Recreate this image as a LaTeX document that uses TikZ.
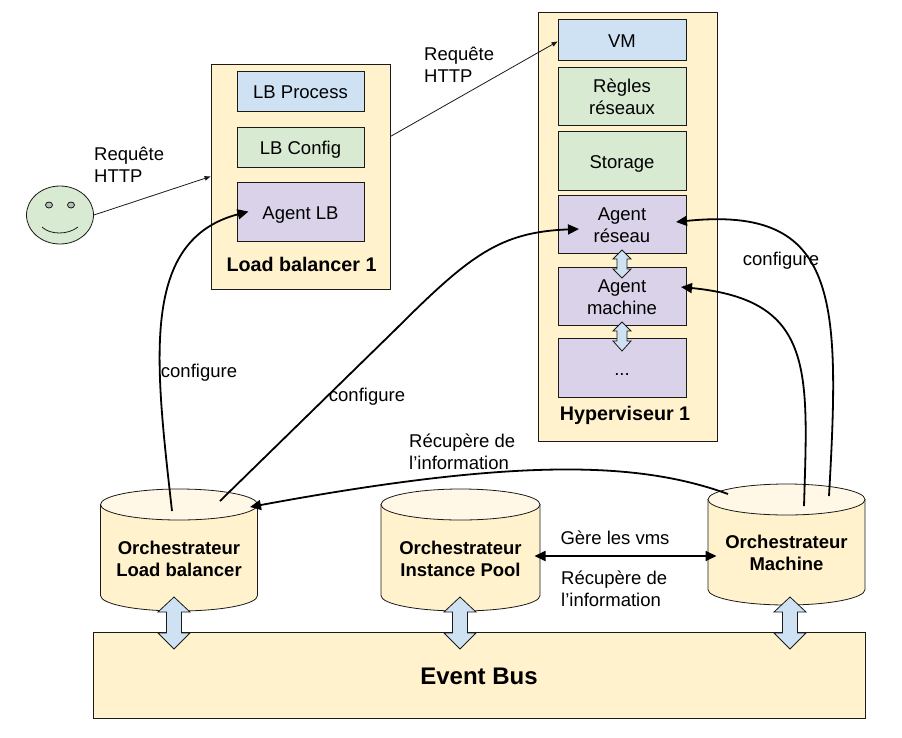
\documentclass[tikz,border=0pt]{standalone}
\usepackage{fontspec}
\setmainfont{Liberation Sans}
\usetikzlibrary{arrows.meta,calc,shapes.geometric}
\definecolor{cyellow}{HTML}{FFF2CC}
\definecolor{ctop}{HTML}{FFF8E6}
\definecolor{cgreen}{HTML}{D9EAD3}
\definecolor{cblue}{HTML}{CFE2F3}
\definecolor{cpurple}{HTML}{D9D2E9}
\definecolor{cline}{HTML}{1A1A1A}
\newcommand{\bxnode}[7][]{%
  \pgfmathsetmacro{\bxw}{#5-#3}\pgfmathsetmacro{\bxh}{#6-#4}%
  \pgfmathsetmacro{\bxx}{(#5+#3)/2}\pgfmathsetmacro{\bxy}{(#6+#4)/2}%
  \node[boxed,fill=#1,minimum width=\bxw pt,minimum height=\bxh pt] (#2) at (\bxx,\bxy) {#7};}
\newcommand{\oneline}[1]{\smash{#1}\rule{0pt}{15pt}}
\newcommand{\firstline}{\rule{0pt}{15pt}}
\newcommand{\cylnode}[6]{% name, x1, x2, top, bottom, text
  \pgfmathsetmacro{\cx}{(#2+#3)/2}\pgfmathsetmacro{\rx}{(#3-#2)/2}%
  \pgfmathsetmacro{\ty}{#4+15.5}\pgfmathsetmacro{\by}{#5-15.5}%
  \draw[thinline,fill=cyellow] (#2,\ty) -- (#2,\by) arc[start angle=180,end angle=360,x radius=\rx pt,y radius=15.5pt] -- (#3,\ty) -- cycle;
  \draw[thinline,fill=ctop] (\cx,\ty) ellipse[x radius=\rx pt,y radius=15.5pt];
  \pgfmathsetmacro{\myy}{(#4+#5)/2+8.5}%
  \node[boldtext] (#1) at (\cx,\myy) {#6};}
\newcommand{\dblarrow}[7]{% cx, tip1, base1, base2, tip2, head half, shaft half
  \draw[thinline,fill=cblue] (#1,#2) -- ({#1+#6},#3) -- ({#1+#7},#3) -- ({#1+#7},#4) -- ({#1+#6},#4) -- (#1,#5)
    -- ({#1-#6},#4) -- ({#1-#7},#4) -- ({#1-#7},#3) -- ({#1-#6},#3) -- cycle;}
\tikzset{
  thinline/.style={draw=cline,line width=0.8pt},
  boxed/.style={thinline,inner sep=0pt,align=center,text=black,font=\fontsize{18.5}{22}\selectfont},
  boldtext/.style={inner sep=0pt,align=center,text=black,font=\fontsize{18.5}{22}\selectfont\bfseries},
  titletext/.style={inner sep=0pt,align=center,text=black,font=\fontsize{19.7}{22}\selectfont\bfseries},
  lbl/.style={inner sep=0pt,align=left,text=black,font=\fontsize{18.5}{22}\selectfont},
  thinarrow/.style={draw=cline,line width=0.8pt,-{Triangle[length=6pt,width=4.5pt]}},
  thickarrow/.style={draw=black,line width=1.8pt,-{Triangle[length=11pt,width=10pt]}},
  bothway/.style={draw=black,line width=1.8pt,{Triangle[length=11pt,width=10pt]}-{Triangle[length=11pt,width=10pt]}},
}
\begin{document}
\begin{tikzpicture}[x=1pt,y=-1pt]
\useasboundingbox (0,0) rectangle (902,737);
% containers
\bxnode[cyellow]{lb}{211}{64}{390}{289}{}
\bxnode[cyellow]{hv}{538}{12}{717}{441}{}
\bxnode[cyellow]{bus}{93}{632}{865}{718}{\fontsize{24}{28}\selectfont\bfseries\rule{0pt}{19pt}\smash{Event Bus}}
% load balancer
\bxnode[cblue]{lbp}{237}{71}{364}{111}{\oneline{LB Process}}
\bxnode[cgreen]{lbc}{237}{127}{364}{167}{\oneline{LB Config}}
\bxnode[cpurple]{alb}{237}{182}{364}{241}{\oneline{Agent LB}}
\node[titletext] (lbt) at (301.5,264) {Load balancer 1};
% hypervisor
\bxnode[cblue]{vm}{558}{19}{686}{60}{\oneline{VM}}
\bxnode[cgreen]{regles}{558}{67}{686}{125}{\firstline Règles\\réseaux}
\bxnode[cgreen]{storage}{558}{131}{686}{190}{\oneline{Storage}}
\bxnode[cpurple]{ares}{558}{195}{686}{253}{\firstline Agent\\réseau}
\bxnode[cpurple]{amac}{558}{267}{686}{325}{\firstline Agent\\machine}
\bxnode[cpurple]{dots}{558}{338}{686}{397}{\oneline{...}}
\node[titletext] (hvt) at (625,415) {Hyperviseur 1};
\dblarrow{622}{250}{259}{269}{278}{9}{5}
\dblarrow{622}{322}{331}{341}{351}{9}{5}
% cylinders
\cylnode{olb}{100.5}{257.5}{489}{611}{Orchestrateur\\Load balancer}
\cylnode{oip}{381}{540}{489}{611}{Orchestrateur\\Instance Pool}
\cylnode{oma}{708}{865}{484}{605}{Orchestrateur\\Machine}
% bus arrows
\dblarrow{174}{597}{612}{633}{649}{16}{7.5}
\dblarrow{460}{597}{612}{633}{649}{16}{7.5}
\dblarrow{790}{597}{612}{633}{649}{16}{7.5}
% smiley
\node[draw=cline,line width=0.8pt,fill=cgreen,ellipse,inner sep=0pt,minimum width=67pt,minimum height=58pt] (face) at (60,215) {};
\draw[thinline,fill=cgreen!75!black!80] (49,205) ellipse[x radius=3.5pt,y radius=3pt];
\draw[thinline,fill=cgreen!75!black!80] (71,205) ellipse[x radius=3.5pt,y radius=3pt];
\draw[thinline] (42,227) .. controls (50,235) and (68,235) .. (78,227);
% free ends
\coordinate (c1) at (172,511);
\coordinate (c2) at (220,501);
\coordinate (c3) at (728,494);
\coordinate (c4) at (829,496);
\coordinate (c5) at (804,506);
% thin arrows
\draw[thinarrow] (face.east) -- (lb.west);
\draw[thinarrow] ([yshift=40pt]lb.east) -- ([yshift=-2pt]vm.west);
% thick arrows
\draw[thickarrow] (c1) .. controls (155,360) and (140,240) .. ([xshift=-52pt,yshift=0pt]alb.center);
\draw[thickarrow] (c2) -- (395,330) .. controls (470,255) and (500,232) .. ([xshift=-43pt,yshift=-5pt]ares.center);
\draw[thickarrow] (c3) .. controls (640,462) and (520,457) .. (250,507);
\draw[thickarrow] (c4) .. controls (840,300) and (840,205) .. ([xshift=54pt,yshift=2pt]ares.center);
\draw[thickarrow] (c5) .. controls (808,370) and (815,300) .. ([xshift=59pt,yshift=9pt]amac.center);
\draw[bothway] (oip.center |- 0,556) ++(74,0) -- ++(182,0);
% labels
\node[lbl,anchor=north west] (l1) at (94,147) {Requête\\HTTP};
\node[lbl,anchor=north west] (l2) at (424,47) {Requête\\HTTP};
\node[lbl] (l3) at (199,373) {configure};
\node[lbl] (l4) at (367,397) {configure};
\node[lbl] (l5) at (781,261) {configure};
\node[lbl,anchor=north west] (l6) at (409,434) {Récupère de\\l’information};
\node[lbl] (l7) at (615,538) {Gère les vms};
\node[lbl,anchor=north west] (l8) at (561,570.5) {Récupère de\\l’information};
\end{tikzpicture}
\end{document}
